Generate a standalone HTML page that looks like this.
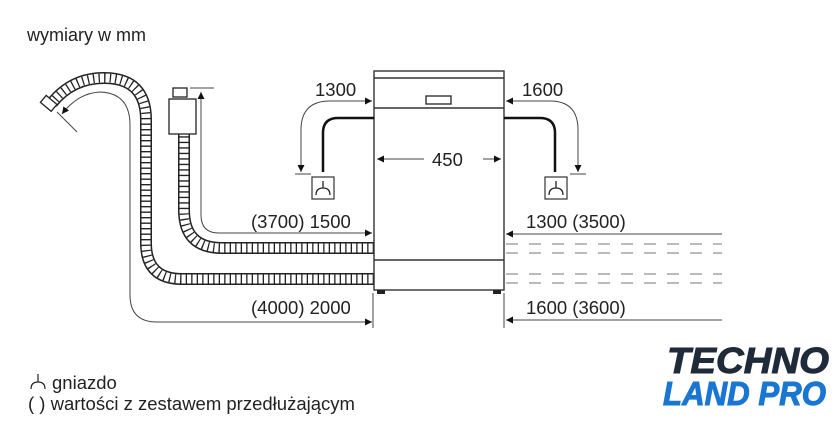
<!DOCTYPE html>
<html><head><style>
body{margin:0;background:#fff;}
svg{display:block}
text{font-family:"Liberation Sans",sans-serif;fill:#222}
</style></head><body>
<svg width="840" height="440" viewBox="0 0 840 440" xmlns="http://www.w3.org/2000/svg">
<defs>
<marker id="a" viewBox="0 0 10 10" refX="10" refY="5" markerWidth="7" markerHeight="7" orient="auto-start-reverse" markerUnits="userSpaceOnUse"><path d="M0,0L10,5L0,10z" fill="#111"/></marker>
</defs>
<text x="27" y="41" font-size="18">wymiary w mm</text>

<!-- hoses -->
<g fill="none">
<path id="h1" d="M374,248 H222 Q184,248 184,210 V133"/>
<path id="h2" d="M374,279 H182 Q146,279 146,243 V120 Q146,78 104,78 Q72,78 52,103"/>
</g>
<g fill="none" stroke-linejoin="round">
<use href="#h1" stroke="#222" stroke-width="12"/>
<use href="#h1" stroke="#fff" stroke-width="9"/>
<use href="#h1" stroke="#222" stroke-width="9" stroke-dasharray="1.3 4.2"/>
<use href="#h2" stroke="#222" stroke-width="12"/>
<use href="#h2" stroke="#fff" stroke-width="9"/>
<use href="#h2" stroke="#222" stroke-width="9" stroke-dasharray="1.3 4.2"/>
</g>
<!-- nozzle -->
<rect x="42" y="99" width="14" height="9" fill="#fff" stroke="#222" stroke-width="1.3" transform="rotate(40 49 103)"/>
<!-- valve box -->
<rect x="169" y="99" width="27" height="35" fill="#fff" stroke="#222" stroke-width="1.3"/>
<rect x="173" y="88" width="14" height="9" fill="#fff" stroke="#222" stroke-width="1.3"/>

<!-- appliance -->
<g fill="none" stroke="#333" stroke-width="1.4">
<rect x="374" y="71" width="130" height="219" fill="#fff"/>
<path d="M374,78 H504 M374,108 H504 M374,260 H504"/>
<rect x="426" y="96" width="25" height="8"/>
</g>
<rect x="377" y="290" width="8" height="4" fill="#222"/>
<rect x="493" y="290" width="8" height="4" fill="#222"/>

<!-- dimension lines -->
<g fill="none" stroke="#444" stroke-width="1">
<path d="M201,92 V215 Q201,233 219,233 H372" marker-end="url(#a)" marker-start="url(#a)"/>
<path d="M190,88 H214"/>
<path d="M62,114 Q78,93 100,92 Q130,93 130,125 V295 Q130,322 157,322 H372" marker-end="url(#a)" marker-start="url(#a)"/>
<path d="M57,112 L77,132"/>
<path d="M372,101 H330 Q301,101 301,130 V172" marker-start="url(#a)" marker-end="url(#a)"/>
<path d="M295,174 H311"/>
<path d="M506,101 H550 Q578,101 578,130 V172" marker-start="url(#a)" marker-end="url(#a)"/>
<path d="M570,174 H586"/>
<path d="M377,159 H424" marker-start="url(#a)"/>
<path d="M483,159 H501" marker-end="url(#a)"/>
<path d="M722,234 H506" marker-end="url(#a)"/>
<path d="M722,320 H506" marker-end="url(#a)"/>
<path d="M373,293 V328 M504,293 V328"/>
<path d="M506,244 H722 M506,253 H722 M506,274 H722 M506,283 H722" stroke="#777" stroke-dasharray="12 11"/>
</g>

<!-- cables -->
<g fill="none" stroke="#111" stroke-width="2.5">
<path d="M374,118 H338 Q323,118 323,133 V172"/>
<path d="M504,118 H540 Q555,118 555,133 V172"/>
</g>
<g fill="#fff" stroke="#333" stroke-width="1.2">
<rect x="312" y="177" width="22" height="22"/>
<rect x="545" y="177" width="22" height="22"/>
</g>
<g fill="none" stroke="#222" stroke-width="1.3">
<path d="M323,181 V188 M316,195 Q316,188 323,188 Q330,188 330,195"/>
<path d="M556,181 V188 M549,195 Q549,188 556,188 Q563,188 563,195"/>
</g>

<g font-size="18.5">
<text x="315" y="96">1300</text>
<text x="522" y="96">1600</text>
<text x="432" y="166">450</text>
<text x="251" y="228">(3700) 1500</text>
<text x="251" y="314">(4000) 2000</text>
<text x="526" y="228">1300 (3500)</text>
<text x="526" y="314">1600 (3600)</text>
</g>

<!-- legend -->
<g fill="none" stroke="#222" stroke-width="1.2">
<path d="M38,374 V382 M31,389 Q31,382 38,382 Q45,382 45,389"/>
</g>
<text x="52" y="389" font-size="18.5">gniazdo</text>
<text x="28" y="410" font-size="18.5">( ) wartości z zestawem przedłużającym</text>

<!-- logo -->
<text x="667" y="373" font-size="36" font-weight="bold" font-style="italic" textLength="162" lengthAdjust="spacingAndGlyphs" style="fill:#1f2a3a;stroke:#1f2a3a;stroke-width:1">TECHNO</text>
<text x="663" y="405" font-size="33" font-weight="bold" font-style="italic" textLength="163" lengthAdjust="spacingAndGlyphs" style="fill:#1976d2;stroke:#1976d2;stroke-width:1">LAND PRO</text>
</svg>
</body></html>
